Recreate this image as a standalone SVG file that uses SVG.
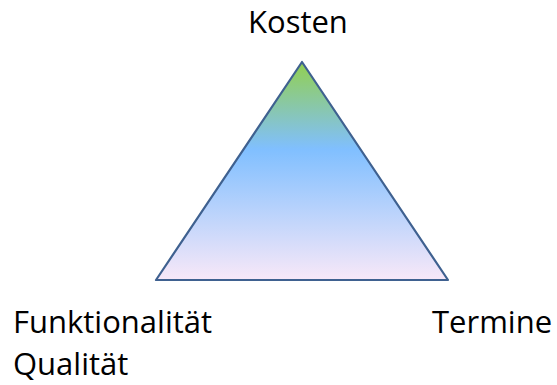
<svg xmlns="http://www.w3.org/2000/svg" width="557" height="385" viewBox="0 0 557 385">
<style>
text{font-family:"Open Sans","Noto Sans",sans-serif;font-size:31px;fill:#000}
</style>
<defs>
<linearGradient id="g" x1="0" y1="0" x2="0" y2="1">
<stop offset="0" stop-color="#92d050"/>
<stop offset="0.4" stop-color="#80bfff"/>
<stop offset="1" stop-color="#f8e8f8"/>
</linearGradient>
</defs>
<g id="triangle">
<polygon points="302,62 156,280 448,280" fill="url(#g)" stroke="#3f6190" stroke-width="2.2" stroke-linejoin="round"/>
</g>
<g id="kosten"><text x="248" y="33">Kosten</text></g>
<g id="funktionalitaet"><text x="13" y="333">Funktionalität</text><text x="13" y="375">Qualität</text></g>
<g id="termine"><text x="432" y="333">Termine</text></g>
</svg>
